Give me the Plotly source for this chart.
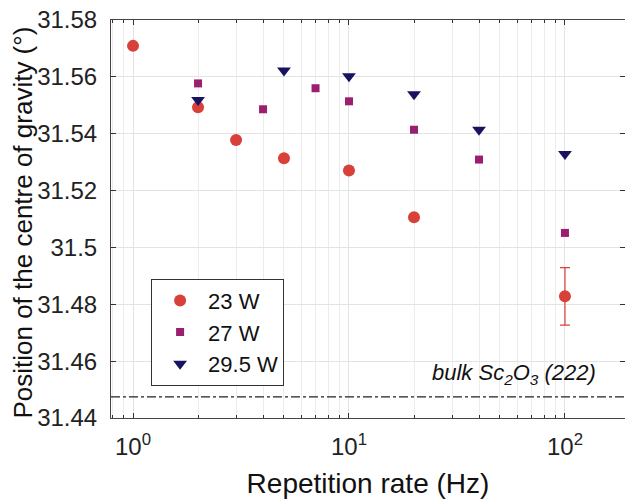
import numpy as np
import plotly.graph_objects as go

# ---- data ----
x_23 = [1, 2, 3, 5, 10, 20, 100]
y_23 = [31.5709, 31.5493, 31.5378, 31.5314, 31.5271, 31.5106, 31.4828]
err_23 = [0, 0, 0, 0, 0, 0, 0.0101]

x_27 = [2, 4, 7, 10, 20, 40, 100]
y_27 = [31.5577, 31.5486, 31.5560, 31.5514, 31.5414, 31.5309, 31.5051]

x_295 = [2, 5, 10, 20, 40, 100]
y_295 = [31.5519, 31.5622, 31.5602, 31.5539, 31.5414, 31.5329]

bulk_value = 31.4474
bulk_label = "<i>bulk Sc<sub>2</sub>O<sub>3</sub> (222)</i>"

x_tickvals = [1, 10, 100]
x_ticktext = ["10<sup>0</sup>", "10<sup>1</sup>", "10<sup>2</sup>"]
y_tickvals = [31.44, 31.46, 31.48, 31.5, 31.52, 31.54, 31.56, 31.58]
y_ticktext = ["31.44", "31.46", "31.48", "31.5", "31.52", "31.54", "31.56", "31.58"]

FONT = "Liberation Sans, Arial, sans-serif"
C_RED = "#d8403a"
C_PUR = "#9a1f6f"
C_NAVY = "#18125f"

fig = go.Figure()

fig.add_trace(go.Scatter(
    x=x_23, y=y_23, mode="markers", name="23 W",
    marker=dict(symbol="circle", size=12, color=C_RED),
    error_y=dict(type="data", array=err_23, visible=True, color=C_RED,
                 thickness=1.2, width=5),
))
fig.add_trace(go.Scatter(
    x=x_27, y=y_27, mode="markers", name="27 W",
    marker=dict(symbol="square", size=8, color=C_PUR),
))
fig.add_trace(go.Scatter(
    x=x_295, y=y_295, mode="markers", name="29.5 W",
    marker=dict(symbol="triangle-down", size=12, color=C_NAVY),
))

fig.add_hline(y=bulk_value, line=dict(color="#222222", width=1.2, dash="dashdot"))

fig.add_annotation(
    x=0.947, y=bulk_value, xref="paper", yref="y",
    text=bulk_label, showarrow=False, xanchor="right", yanchor="bottom",
    yshift=7, font=dict(family=FONT, size=22, color="#111111"),
)

# y-axis title as a rotated annotation for exact placement
fig.add_annotation(
    x=-0.172, y=0.49, xref="paper", yref="paper",
    text="Position of the centre of gravity (°)", textangle=-90,
    showarrow=False, xanchor="center", yanchor="middle",
    font=dict(family=FONT, size=26, color="#111111"),
)

minor_x = [0.8, 0.9, 2, 3, 4, 5, 6, 7, 8, 9, 20, 30, 40, 50, 60, 70, 80, 90, 200]

fig.update_layout(
    width=625, height=499,
    margin=dict(l=111, r=0, t=20, b=81),
    paper_bgcolor="white", plot_bgcolor="white",
    font=dict(family=FONT, size=22, color="#222222"),
    hovermode=False,
    showlegend=True,
    legend=dict(
        x=0.078, y=0.35, xanchor="left", yanchor="top",
        bgcolor="white", bordercolor="#333333", borderwidth=1,
        font=dict(family=FONT, size=22, color="#111111"),
        itemsizing="trace", tracegroupgap=0, itemwidth=46,
    ),
    xaxis=dict(
        type="log", range=[-0.102, 2.278], automargin=False,
        tickmode="array", tickvals=x_tickvals, ticktext=x_ticktext,
        ticks="inside", ticklen=5, tickcolor="#333333",
        ticklabelstandoff=7,
        showgrid=True, gridcolor="#e3e3e3", gridwidth=1,
        minor=dict(tickvals=minor_x, ticks="inside", ticklen=3,
                   tickcolor="#333333", showgrid=True, gridcolor="#ececec"),
        showline=True, linecolor="#444444", linewidth=1, mirror="ticks",
        zeroline=False,
        tickfont=dict(family=FONT, size=24, color="#222222"),
        title=dict(text="Repetition rate (Hz)", standoff=22,
                   font=dict(family=FONT, size=28, color="#111111")),
    ),
    yaxis=dict(
        range=[31.44, 31.58], automargin=False,
        tickmode="array", tickvals=y_tickvals, ticktext=y_ticktext,
        ticks="inside", ticklen=5, tickcolor="#333333",
        ticklabelstandoff=8,
        showgrid=True, gridcolor="#e3e3e3", gridwidth=1,
        showline=True, linecolor="#444444", linewidth=1, mirror="ticks",
        zeroline=False,
        tickfont=dict(family=FONT, size=24, color="#222222"),
    ),
)

fig.write_html(
    "out.html",
    config={"displayModeBar": False},
    post_script="document.body.style.margin='0';document.documentElement.style.overflow='hidden';",
)
